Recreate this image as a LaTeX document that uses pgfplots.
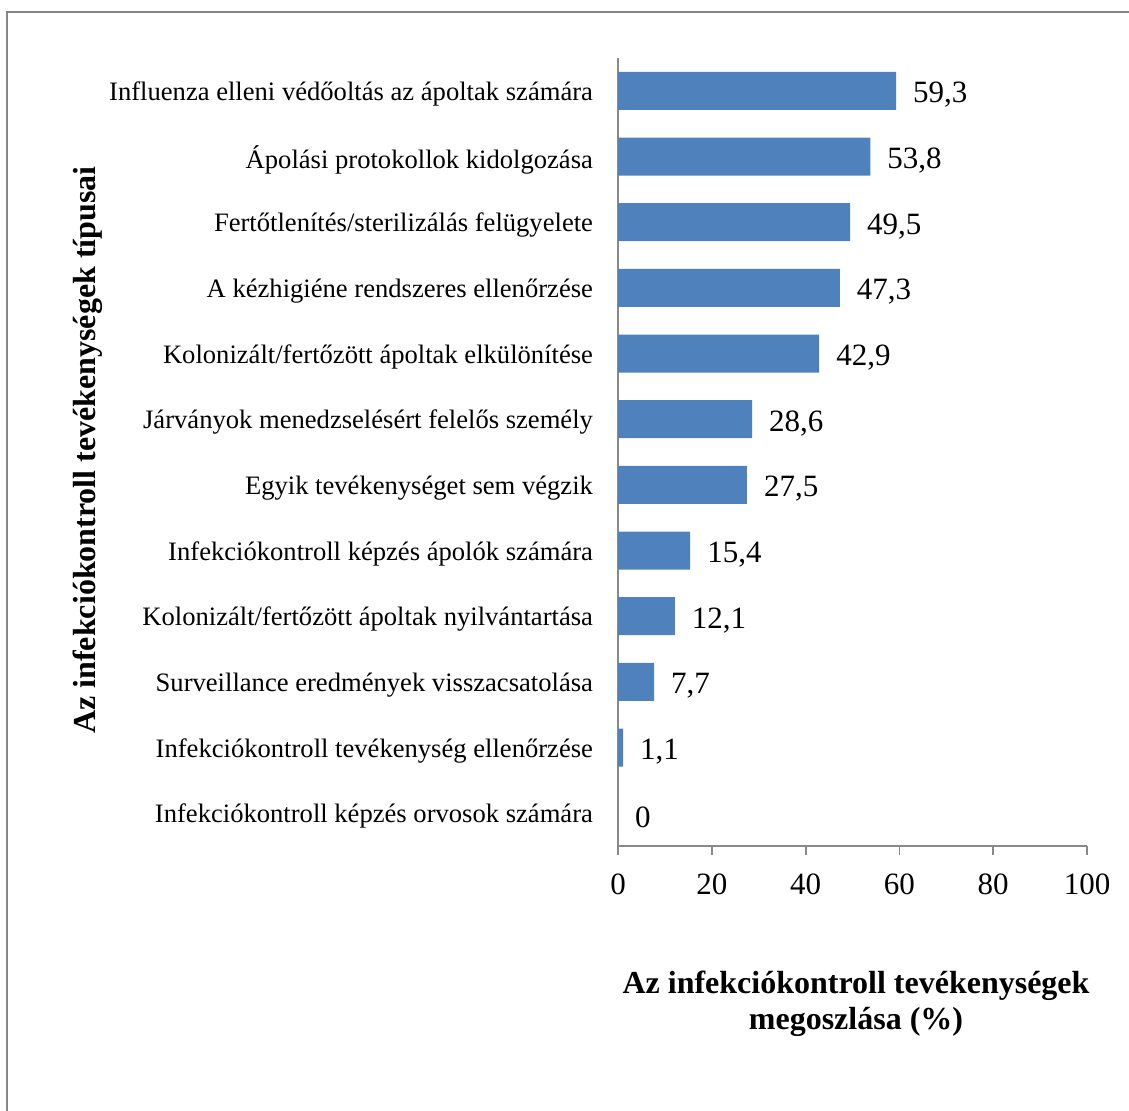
\documentclass[border=0pt]{standalone}
\usepackage{pgfplots}
\pgfplotsset{compat=1.18}
\usepackage{fontspec}
\setmainfont{Liberation Serif}
\definecolor{barblue}{HTML}{4F81BD}
\definecolor{axgray}{HTML}{898989}
\definecolor{framegray}{HTML}{878787}
\begin{document}
\begin{tikzpicture}
\useasboundingbox (0pt,0pt) rectangle (564.5pt,-555pt);
\draw[framegray, line width=1.1pt] (3.5pt,-570pt) -- (3.5pt,-6pt) -- (580pt,-6pt);
\begin{axis}[
  at={(309pt,-423pt)}, anchor=south west,
  scale only axis,
  width=234.5pt, height=394pt,
  xbar, bar width=19pt,
  xmin=0, xmax=100,
  ymin=-0.5, ymax=11.5,
  xtick={0,20,40,60,80,100},
  ytick={0,...,11},
  yticklabels={
    Infekciókontroll képzés orvosok számára,
    Infekciókontroll tevékenység ellenőrzése,
    Surveillance eredmények visszacsatolása,
    Kolonizált/fertőzött ápoltak nyilvántartása,
    Infekciókontroll képzés ápolók számára,
    Egyik tevékenységet sem végzik,
    Járványok menedzselésért felelős személy,
    Kolonizált/fertőzött ápoltak elkülönítése,
    A kézhigiéne rendszeres ellenőrzése,
    Fertőtlenítés/sterilizálás felügyelete,
    Ápolási protokollok kidolgozása,
    Influenza elleni védőoltás az ápoltak számára},
  axis x line*=bottom, axis y line*=left,
  axis line style={axgray, line width=0.9pt, -},
  x axis line style={-}, y axis line style={-},
  major tick length=4.5pt,
  xtick style={axgray, line width=0.9pt},
  xtick pos=bottom, xtick align=outside,
  ytick style={draw=none},
  tick label style={text=black},
  xticklabel style={font=\fontsize{15.5}{18}\selectfont, yshift=-6pt},
  yticklabel style={font=\fontsize{13.3}{16}\selectfont, xshift=-4.5pt, yshift=-1.5pt},
  /pgf/number format/assume math mode=true,
  /pgf/number format/use comma,
  /pgf/number format/1000 sep={},
  nodes near coords={\pgfmathprintnumber[fixed,precision=1,use comma,assume math mode=true]{\pgfplotspointmeta}},
  nodes near coords style={font=\fontsize{15.5}{18}\selectfont, anchor=west, xshift=5pt, yshift=-2pt, text=black},
  point meta=x,
  clip=false,
]
\addplot[fill=barblue, draw=none] coordinates {
  (0,0) (1.1,1) (7.7,2) (12.1,3) (15.4,4) (27.5,5) (28.6,6)
  (42.9,7) (47.3,8) (49.5,9) (53.8,10) (59.3,11)};
\end{axis}
\node[font=\fontsize{16}{18}\selectfont\bfseries, align=center] at (428pt,-502pt)
  {Az infekciókontroll tevékenységek\\megoszlása (\%)};
\node[font=\fontsize{16}{18}\selectfont\bfseries, rotate=90] at (44pt,-225pt)
  {Az infekciókontroll tevékenységek típusai};
\end{tikzpicture}
\end{document}
